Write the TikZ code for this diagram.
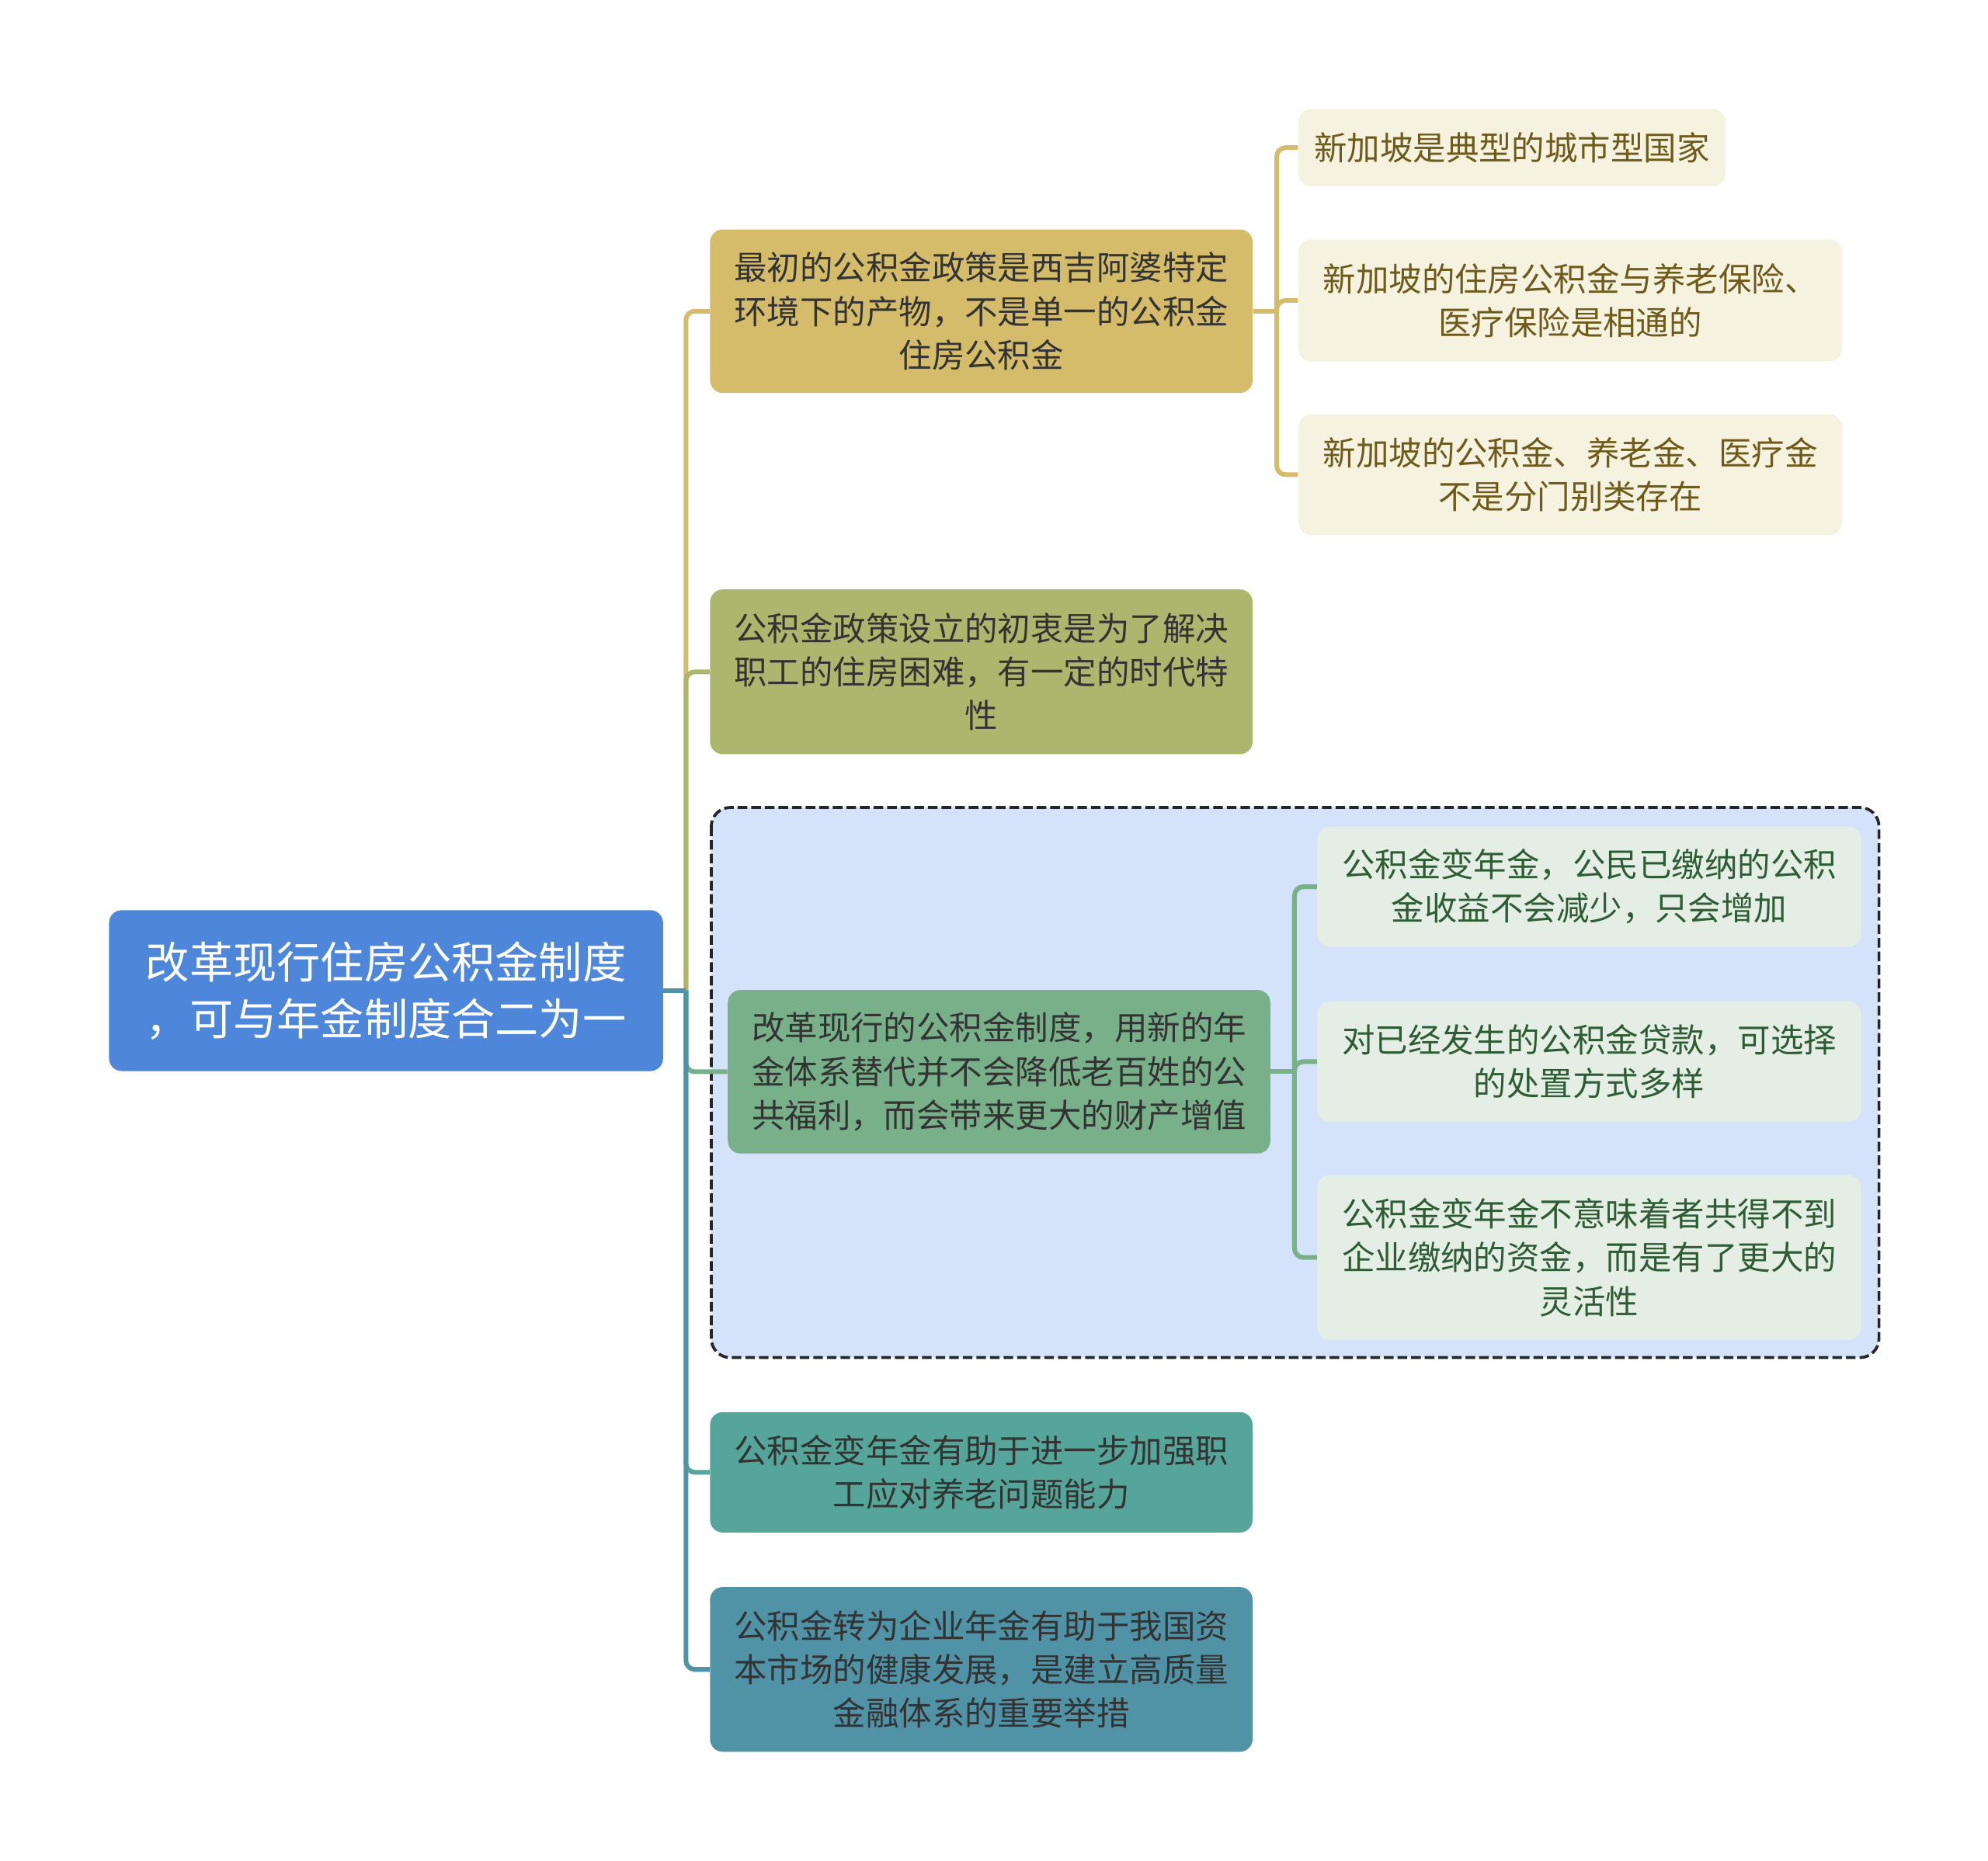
\documentclass[tikz,border=0pt]{standalone}
\usepackage{fontspec}
\setmainfont{Noto Sans CJK SC}
\definecolor{rootblue}{HTML}{4E86D9}
\definecolor{gold}{HTML}{D4BC6B}
\definecolor{olive}{HTML}{ADB66D}
\definecolor{sage}{HTML}{78B08A}
\definecolor{teal}{HTML}{56A59A}
\definecolor{steel}{HTML}{5193A6}
\definecolor{cream}{HTML}{F5F2E0}
\definecolor{mint}{HTML}{E4EEE5}
\definecolor{paleblue}{HTML}{D4E3FA}
\definecolor{inkgrey}{HTML}{333333}
\definecolor{inkgold}{HTML}{6E5B1B}
\definecolor{inkgreen}{HTML}{2E5C35}
\begin{document}
\begin{tikzpicture}[x=.02cm,y=-.02cm,
  box/.style={rounded corners=.2cm,align=center,inner sep=0pt},
  rootbox/.style={box,fill=rootblue,text=white,minimum width=8.74cm,minimum height=2.54cm,font=\fontsize{19.6}{25.6}\selectfont},
  topic/.style={box,text=inkgrey,minimum width=8.56cm,font=\fontsize{14.8}{19.6}\selectfont},
  leaf/.style={box,minimum width=8.58cm,font=\fontsize{14.8}{19.6}\selectfont},
  branch/.style={line width=2.1pt,rounded corners=4pt}]
\useasboundingbox (0,0) rectangle (1568,1468);
% summary frame
\draw[fill=paleblue,draw=black!85,line width=1.3pt,dash pattern=on 4.3pt off 1.8pt,rounded corners=.3cm] (561,637) rectangle (1482,1071);
% main topic
\node[rootbox] (root) at (304.5,781.5) {改革现行住房公积金制度\\，可与年金制度合二为一};
% subtopics
\node[topic,fill=gold,minimum height=2.58cm] (c1) at (774,245.5) {最初的公积金政策是西吉阿婆特定\\环境下的产物，不是单一的公积金\\住房公积金};
\node[topic,fill=olive,minimum height=2.6cm] (c2) at (774,530) {公积金政策设立的初衷是为了解决\\职工的住房困难，有一定的时代特\\性};
\node[topic,fill=sage,minimum height=2.58cm] (c3) at (788,845.5) {改革现行的公积金制度，用新的年\\金体系替代并不会降低老百姓的公\\共福利，而会带来更大的财产增值};
\node[topic,fill=teal,minimum height=1.9cm] (c4) at (774,1161.5) {公积金变年金有助于进一步加强职\\工应对养老问题能力};
\node[topic,fill=steel,minimum height=2.6cm] (c5) at (774,1317) {公积金转为企业年金有助于我国资\\本市场的健康发展，是建立高质量\\金融体系的重要举措};
% leaves of c1
\node[leaf,fill=cream,text=inkgold,minimum width=6.74cm,minimum height=1.22cm] (g1) at (1192.5,116.5) {新加坡是典型的城市型国家};
\node[leaf,fill=cream,text=inkgold,minimum height=1.92cm] (g2) at (1238.5,237) {新加坡的住房公积金与养老保险、\\医疗保险是相通的};
\node[leaf,fill=cream,text=inkgold,minimum height=1.9cm] (g3) at (1238.5,374.5) {新加坡的公积金、养老金、医疗金\\不是分门别类存在};
% leaves of c3
\node[leaf,fill=mint,text=inkgreen,minimum height=1.9cm] (h1) at (1253.5,699.5) {公积金变年金，公民已缴纳的公积\\金收益不会减少，只会增加};
\node[leaf,fill=mint,text=inkgreen,minimum height=1.9cm] (h2) at (1253.5,837.5) {对已经发生的公积金贷款，可选择\\的处置方式多样};
\node[leaf,fill=mint,text=inkgreen,minimum height=2.6cm] (h3) at (1253.5,992) {公积金变年金不意味着者共得不到\\企业缴纳的资金，而是有了更大的\\灵活性};
% connectors
\coordinate (rj) at (541,781.5);
\coordinate (gj) at (1007,245.5);
\coordinate (hj) at (1021,845.5);
\draw[branch,gold] (rj) |- (c1.west);
\draw[branch,olive] (rj) |- (c2.west);
\draw[branch,sage] (rj) |- (c3.west);
\draw[branch,teal] (rj) |- (c4.west);
\draw[branch,steel] (rj) |- (c5.west);
\draw[branch,steel] (root.east) -- (rj);
\draw[branch,gold] (c1.east) -- (gj);
\draw[branch,gold] (gj) |- (g1.west);
\draw[branch,gold] (gj) |- (g2.west);
\draw[branch,gold] (gj) |- (g3.west);
\draw[branch,sage] (c3.east) -- (hj);
\draw[branch,sage] (hj) |- (h1.west);
\draw[branch,sage] (hj) |- (h2.west);
\draw[branch,sage] (hj) |- (h3.west);
\end{tikzpicture}
\end{document}
